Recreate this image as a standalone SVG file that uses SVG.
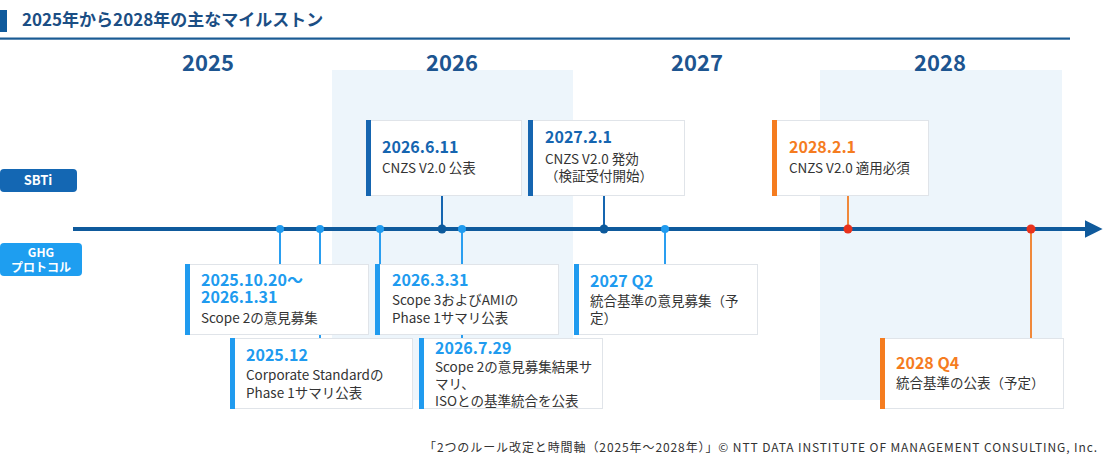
<svg xmlns="http://www.w3.org/2000/svg" width="1104" height="464" viewBox="0 0 1104 464">
<style>
text{font-family:"Noto Sans CJK JP","Noto Sans",sans-serif}
.title{font-size:17px;font-weight:bold;fill:#1b4e84}
.year{font-size:22px;font-weight:bold;fill:#1d5590;text-anchor:middle}
.box{fill:#fff;stroke:#e0e4e9;stroke-width:1}
.date{font-size:16px;font-weight:bold}
.desc{font-size:13.5px;fill:#333}
.dk{fill:#1565b0}
.lt{fill:#209bef}
.or{fill:#f57c1f}
.cdk{stroke:#1565b0;stroke-width:2;fill:none}
.clt{stroke:#2a9ef0;stroke-width:2;fill:none}
.cor{stroke:#f0883a;stroke-width:2;fill:none}
.band{fill:#edf5fb}
.lbl{font-weight:bold;fill:#fff;text-anchor:middle}
</style>
<defs>
<marker id="arrow" viewBox="0 0 10 10" refX="0" refY="5" markerWidth="4.4" markerHeight="4.4" orient="auto" markerUnits="strokeWidth">
<path d="M0,0 L10,5 L0,10 z" fill="#0f5a9c"/>
</marker>
</defs>
<rect width="1104" height="464" fill="#fff"/>
<g id="header">
<rect x="0" y="10" width="7" height="22" fill="#0f5a9c"/>
<text class="title" x="22" y="26">2025年から2028年の主なマイルストン</text>
<rect x="0" y="37.5" width="1070" height="2.2" fill="#1a5b94"/>
</g>
<g id="bands">
<rect class="band" x="332" y="70" width="241" height="330"/>
<rect class="band" x="820" y="70" width="242" height="330"/>
</g>
<g id="years">
<text class="year" x="208" y="71">2025</text>
<text class="year" x="452" y="71">2026</text>
<text class="year" x="697" y="71">2027</text>
<text class="year" x="940" y="71">2028</text>
</g>
<g id="label-sbti">
<rect x="0" y="169" width="77" height="23" rx="4" fill="#1467b3"/>
<text class="lbl" x="38" y="185" font-size="13">SBTi</text>
</g>
<g id="label-ghg">
<rect x="0" y="243" width="82" height="33" rx="4" fill="#1e9ef0"/>
<text class="lbl" x="41" y="257" font-size="12">GHG</text>
<text class="lbl" x="41" y="272" font-size="12">プロトコル</text>
</g>
<g id="connectors">
<line class="cdk" x1="442" y1="195" x2="442" y2="229"/>
<line class="cdk" x1="604" y1="195" x2="604" y2="229"/>
<line class="cor" x1="848" y1="195" x2="848" y2="229"/>
<line class="clt" x1="280" y1="229" x2="280" y2="265"/>
<line class="clt" x1="320" y1="229" x2="320" y2="338"/>
<line class="clt" x1="380" y1="229" x2="380" y2="265"/>
<line class="clt" x1="462" y1="229" x2="462" y2="338"/>
<line class="clt" x1="665" y1="229" x2="665" y2="265"/>
<line class="cor" x1="1031" y1="229" x2="1031" y2="338"/>
</g>
<g id="timeline">
<line x1="73" y1="229" x2="1085" y2="229" stroke="#0f5a9c" stroke-width="4" marker-end="url(#arrow)"/>
<circle cx="280" cy="229" r="4" class="lt"/>
<circle cx="320" cy="229" r="4" class="lt"/>
<circle cx="380" cy="229" r="4" class="lt"/>
<circle cx="442" cy="229" r="4.5" fill="#0d5a9c"/>
<circle cx="462" cy="229" r="4" class="lt"/>
<circle cx="604" cy="229" r="4.5" fill="#0d5a9c"/>
<circle cx="665" cy="229" r="4" class="lt"/>
<circle cx="848" cy="229" r="4.5" fill="#e8321c"/>
<circle cx="1031" cy="229" r="4.5" fill="#e8321c"/>
</g>
<g id="m-2026-6-11">
<rect class="box" x="366.5" y="120.5" width="155" height="75"/>
<rect class="dk" x="366" y="120" width="5" height="76"/>
<text class="date dk" x="382" y="153">2026.6.11</text>
<text class="desc" x="382" y="173">CNZS V2.0 公表</text>
</g>
<g id="m-2027-2-1">
<rect class="box" x="528.5" y="120.5" width="156" height="75"/>
<rect class="dk" x="528" y="120" width="5" height="76"/>
<text class="date dk" x="545" y="143">2027.2.1</text>
<text class="desc" x="545" y="164">CNZS V2.0 発効</text>
<text class="desc" x="545" y="181">（検証受付開始）</text>
</g>
<g id="m-2028-2-1">
<rect class="box" x="772.5" y="120.5" width="156" height="75"/>
<rect class="or" x="772" y="120" width="5" height="76"/>
<text class="date or" x="789" y="153">2028.2.1</text>
<text class="desc" x="789" y="173">CNZS V2.0 適用必須</text>
</g>
<g id="m-2025-10-20">
<rect class="box" x="185.5" y="264.5" width="183" height="70"/>
<rect class="lt" x="185" y="264" width="5" height="71"/>
<text class="date lt" x="201" y="286">2025.10.20～</text>
<text class="date lt" x="201" y="303">2026.1.31</text>
<text class="desc" x="201" y="323">Scope 2の意見募集</text>
</g>
<g id="m-2026-3-31">
<rect class="box" x="375.5" y="264.5" width="183" height="70"/>
<rect class="lt" x="375" y="264" width="5" height="71"/>
<text class="date lt" x="392" y="286">2026.3.31</text>
<text class="desc" x="392" y="305">Scope 3およびAMIの</text>
<text class="desc" x="392" y="323">Phase 1サマリ公表</text>
</g>
<g id="m-2027-q2">
<rect class="box" x="574.5" y="264.5" width="183" height="70"/>
<rect class="lt" x="574" y="264" width="5" height="71"/>
<text class="date lt" x="590" y="287">2027 Q2</text>
<text class="desc" x="590" y="306">統合基準の意見募集（予</text>
<text class="desc" x="590" y="323">定）</text>
</g>
<g id="m-2025-12">
<rect class="box" x="230.5" y="338.5" width="182" height="70"/>
<rect class="lt" x="230" y="338" width="5" height="71"/>
<text class="date lt" x="246" y="361">2025.12</text>
<text class="desc" x="246" y="380">Corporate Standardの</text>
<text class="desc" x="246" y="398">Phase 1サマリ公表</text>
</g>
<g id="m-2026-7-29">
<rect class="box" x="419.5" y="338.5" width="183" height="70"/>
<rect class="lt" x="419" y="338" width="5" height="71"/>
<text class="date lt" x="435" y="354">2026.7.29</text>
<text class="desc" x="435" y="372">Scope 2の意見募集結果サ</text>
<text class="desc" x="435" y="389">マリ、</text>
<text class="desc" x="435" y="406">ISOとの基準統合を公表</text>
</g>
<g id="m-2028-q4">
<rect class="box" x="880.5" y="338.5" width="183" height="70"/>
<rect class="or" x="880" y="338" width="5" height="71"/>
<text class="date or" x="896" y="369">2028 Q4</text>
<text class="desc" x="896" y="388">統合基準の公表（予定）</text>
</g>
<g id="footer">
<text x="1097" y="452" font-size="12" fill="#333" text-anchor="end" textLength="673" lengthAdjust="spacing">「2つのルール改定と時間軸（2025年～2028年）」© NTT DATA INSTITUTE OF MANAGEMENT CONSULTING, Inc.</text>
</g>
</svg>
